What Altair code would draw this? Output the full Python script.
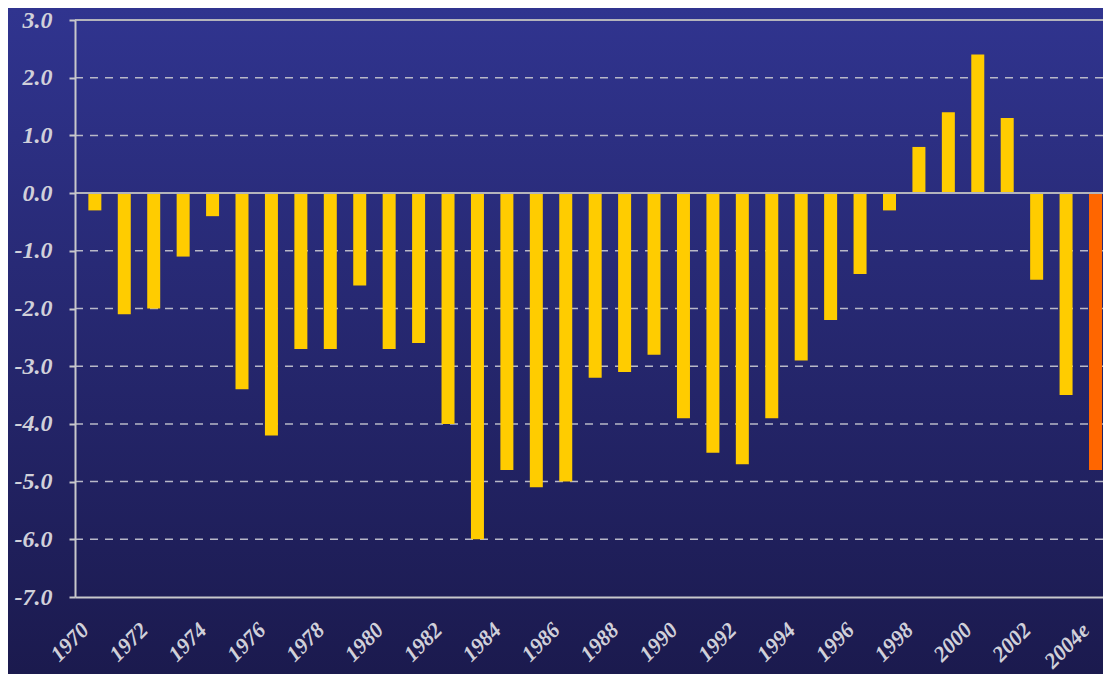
import altair as alt
import pandas as pd

# ---- data ----
years = list(range(1970, 2005))
deficit = [-0.3, -2.1, -2.0, -1.1, -0.4, -3.4, -4.2, -2.7, -2.7, -1.6,
           -2.7, -2.6, -4.0, -6.0, -4.8, -5.1, -5.0, -3.2, -3.1, -2.8,
           -3.9, -4.5, -4.7, -3.9, -2.9, -2.2, -1.4, -0.3, 0.8, 1.4,
           2.4, 1.3, -1.5, -3.5, -4.8]
status = ["actual"] * 34 + ["estimate"]
x_ticks = list(range(1970, 2005, 2))
y_ticks = [-7, -6, -5, -4, -3, -2, -1, 0, 1, 2, 3]
grid_vals = [-6, -5, -4, -3, -2, -1, 1, 2]
solid_vals = [0, 3]

W, H = 1028, 577
PAD = {"left": 67, "top": 12, "right": 0, "bottom": 77}
STEP = 29.72  # px per year
X0 = 1970 - 15 / STEP

bars_df = pd.DataFrame({"year": years, "value": deficit, "status": status})
grid_df = pd.DataFrame({"v": grid_vals})
solid_df = pd.DataFrame({"v": solid_vals})
bg_df = pd.DataFrame({"a": [0]})

FONT = "Liberation Serif"
AX = "#c8c8cc"
LBL = "#d0d0da"

xscale = alt.Scale(domain=[X0, X0 + W / STEP], nice=False, zero=False)
yscale = alt.Scale(domain=[-7, 3], nice=False, zero=False)

gradient = alt.LinearGradient(
    gradient="linear",
    stops=[alt.GradientStop(color="#30348f", offset=0),
           alt.GradientStop(color="#1b1a4e", offset=1)],
    x1=0, x2=0, y1=0, y2=1,
)

xaxis = alt.Axis(
    values=x_ticks,
    labelExpr="datum.value == 2004 ? '2004e' : '' + datum.value",
    labelAngle=-45, labelAlign="right", labelBaseline="top",
    labelOffset=-17, labelPadding=22, ticks=False, tickSize=0,
    grid=False, domainColor=AX, domainWidth=2,
    labelFlush=False, labelOverlap=False,
    labelFont=FONT, labelFontSize=22, labelFontWeight="bold",
    labelFontStyle="italic", labelColor=LBL, title=None, zindex=1,
)
yaxis = alt.Axis(
    values=y_ticks,
    labelExpr="(datum.value < 0 ? '-' : '') + format(abs(datum.value), '.1f')",
    grid=False, domainColor=AX, domainWidth=2,
    tickColor=AX, tickSize=6, tickWidth=2, labelPadding=17,
    labelFont=FONT, labelFontSize=24, labelFontWeight="bold",
    labelFontStyle="italic", labelColor=LBL, title=None, zindex=1,
    labelFlush=False, labelOverlap=False,
)

bg = alt.Chart(bg_df).mark_rect(fill=gradient).encode(
    x=alt.value(-PAD["left"]), x2=alt.value(W),
    y=alt.value(-PAD["top"]), y2=alt.value(H + PAD["bottom"]),
)

grid = alt.Chart(grid_df).mark_rule(
    color="#b8b8c8", strokeDash=[8, 7], strokeWidth=1.5
).encode(
    y=alt.Y("v:Q", scale=yscale, axis=yaxis),
    x=alt.value(0), x2=alt.value(W),
)

bars = alt.Chart(bars_df).mark_bar(size=13, clip=True, orient="vertical").encode(
    x=alt.X("year:Q", scale=xscale, axis=xaxis),
    y=alt.Y("value:Q", scale=yscale, axis=yaxis),
    y2=alt.datum(0),
    color=alt.Color("status:N",
                    scale=alt.Scale(domain=["actual", "estimate"],
                                    range=["#ffcc00", "#ff6600"]),
                    legend=None),
)

solid = alt.Chart(solid_df).mark_rule(color="#b4b4bc", strokeWidth=2).encode(
    y=alt.Y("v:Q", scale=yscale, axis=yaxis),
    x=alt.value(0), x2=alt.value(W),
)

chart = alt.layer(bg, grid, bars, solid).properties(
    width=W, height=H,
    autosize=alt.AutoSizeParams(type="none"),
    padding=PAD,
    background="#25266e",
).configure_view(strokeWidth=0)

chart.save("out.html", embed_options={"renderer": "svg", "actions": False})
